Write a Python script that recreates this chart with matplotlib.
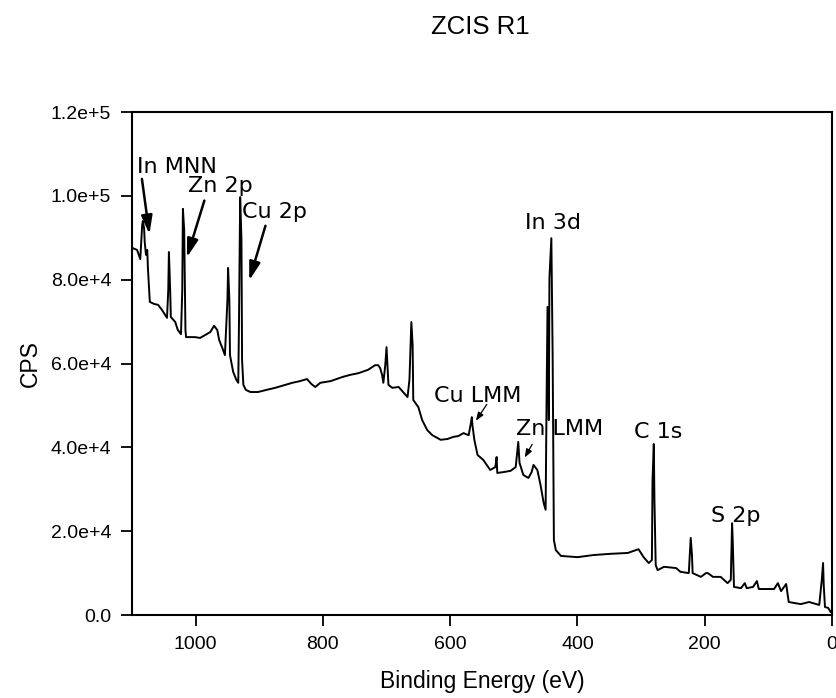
import numpy as np
import matplotlib
matplotlib.use("Agg")
import matplotlib.pyplot as plt

# survey spectrum, binding energy (eV) vs counts per second
be_ev = [1100, 1092, 1087, 1084, 1083, 1081, 1080, 1078, 1076, 1075, 1072, 1065, 1059,
         1053, 1048, 1045, 1043, 1042, 1040, 1039, 1032, 1028, 1023, 1021, 1020, 1018,
         1016, 1015, 1001, 993, 985, 977, 971, 966, 963, 958, 954, 950, 949, 947, 946,
         941, 936, 933, 932, 930, 928, 927, 925, 921, 914, 902, 889, 875, 859, 848, 836,
         825, 818, 812, 804, 788, 769, 757, 744, 729, 718, 713, 710, 707, 705, 702, 700,
         699, 697, 691, 681, 674, 667, 664, 661, 659, 658, 650, 644, 636, 628, 615, 604,
         595, 587, 579, 571, 568, 566, 565, 562, 557, 548, 537, 529, 527, 526, 516, 505,
         497, 493, 491, 485, 477, 472, 469, 463, 458, 453, 450, 448.5, 447, 445, 444, 442,
         441, 439, 437, 434, 426, 400, 375, 348, 321, 304, 296, 288, 283, 282, 280, 279,
         277, 274, 264, 245, 238, 225, 223, 222, 220, 219, 206, 198, 195, 187, 175, 164,
         159, 157, 156, 154, 143, 137, 134, 124, 118, 115, 91, 85, 80, 72, 68, 49, 36, 20,
         16, 14, 13, 11, 6, 2]
cps = [87600, 87100, 84900, 93000, 94000, 92300, 89000, 85900, 87100, 82800, 74700, 74200,
       74000, 72800, 71600, 70900, 77500, 86600, 77500, 71100, 69900, 68000, 67000, 77500,
       96900, 91900, 68000, 66300, 66300, 66100, 66800, 67500, 69000, 68000, 65600, 63700,
       62000, 75200, 82800, 75200, 62000, 58000, 56100, 55400, 68000, 99700, 89500, 60800,
       54900, 53700, 53200, 53200, 53700, 54200, 54900, 55400, 55800, 56300, 55100, 54400,
       55400, 55800, 56800, 57300, 57700, 58500, 59600, 59600, 58900, 57300, 55400, 59600,
       63900, 60800, 54900, 54200, 54400, 53200, 52000, 56100, 69900, 64400, 51300, 49600,
       46500, 44100, 42900, 41800, 42000, 42500, 42700, 43400, 42900, 45300, 47200, 45300,
       41800, 38200, 37000, 34600, 35300, 37700, 33900, 34100, 34400, 35300, 41300, 36300,
       33400, 32700, 34100, 35800, 34600, 31000, 26700, 25100, 51300, 73500, 46500, 80400,
       87100, 89900, 62500, 17900, 15500, 14100, 13800, 14300, 14600, 14800, 15700, 13800,
       12400, 13100, 32200, 40800, 27400, 11900, 10700, 11500, 11200, 10300, 10000, 15500,
       18400, 14300, 10000, 9100, 10000, 10000, 9100, 9100, 7600, 8400, 21900, 17900, 6700,
       6400, 7600, 6400, 6700, 8100, 6200, 6200, 7600, 5700, 7400, 3100, 2600, 3100, 2400,
       8400, 12400, 7200, 1900, 1700, 700]

# peak labels: text, left x, baseline y
peak_labels = ["In MNN", "Zn 2p", "Cu 2p", "In 3d", "Cu LMM", "Zn LMM", "C 1s", "S 2p"]
label_x = [1092, 1012, 927, 482.5, 626, 497, 311.6, 190]
label_y = [105500, 100900, 94700, 92100, 50800, 42900, 42200, 22200]

# arrows: tail -> head
arrow_tail = [(1085, 104700), (985, 99500), (889, 93500), (540, 50800), (469, 41300)]
arrow_head = [(1072, 90200), (1015, 84700), (917, 79200), (562, 45800), (485, 37000)]
arrow_bold = [True, True, True, False, False]

x_ticks = [1000, 800, 600, 400, 200, 0]
y_ticks = [0, 20000, 40000, 60000, 80000, 100000, 120000]
y_ticklabels = ["0.0", "2.0e+4", "4.0e+4", "6.0e+4", "8.0e+4", "1.0e+5", "1.2e+5"]

plt.rcParams['font.family'] = ['Liberation Sans', 'DejaVu Sans']

fig = plt.figure(figsize=(8.37, 6.98), dpi=100)
ax = fig.add_axes([0.1577, 0.1189, 0.8363, 0.7206])

ax.plot(be_ev, cps, color='black', lw=1.4)

ax.set_xlim(1100, 0)
ax.set_ylim(0, 120000)
ax.set_xticks(x_ticks)
ax.set_xticklabels([str(t) for t in x_ticks])
ax.set_yticks(y_ticks)
ax.set_yticklabels(y_ticklabels)
ax.tick_params(direction='out', length=8, width=1.3, labelsize=14, pad=7)
for sp in ax.spines.values():
    sp.set_linewidth(1.5)

ax.set_xlabel('Binding Energy (eV)', fontsize=16.5, labelpad=12)
ax.set_ylabel('CPS', fontsize=16.5, labelpad=6)
fig.text(0.5735, 0.962, 'ZCIS R1', fontsize=18.5, ha='center', va='center')

for txt, lx, ly in zip(peak_labels, label_x, label_y):
    ax.text(lx, ly, txt, fontsize=16, family='DejaVu Sans', ha='left', va='baseline')

for tail, head, bold in zip(arrow_tail, arrow_head, arrow_bold):
    if bold:
        props = dict(arrowstyle='-|>,head_length=0.5,head_width=0.15', color='black',
                     lw=1.8, mutation_scale=22)
    else:
        props = dict(arrowstyle='-|>,head_length=0.45,head_width=0.17', color='black',
                     lw=0.9, mutation_scale=11)
    ax.annotate('', xy=head, xytext=tail, arrowprops=props)

fig.savefig('out.png', dpi=100)
